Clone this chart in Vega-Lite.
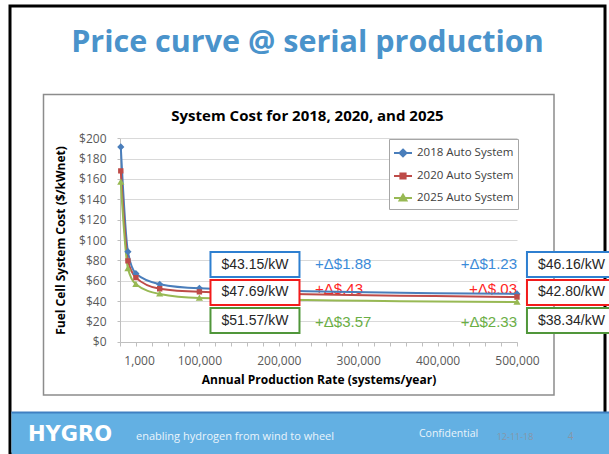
{
  "$schema": "https://vega.github.io/schema/vega-lite/v6.json",
  "width": 595,
  "height": 448,
  "autosize": {"type": "none"},
  "padding": {"left": 10, "top": 6, "right": 4, "bottom": 0},
  "background": "#ffffff",
  "config": {"view": {"stroke": "#000000", "strokeWidth": 3}, "font": "Open Sans"},
  "title": {
    "text": "Price curve @ serial production",
    "subtitle": "System Cost for 2018, 2020, and 2025",
    "anchor": "middle",
    "frame": "group",
    "font": "Open Sans",
    "fontSize": 30.5,
    "fontWeight": "bold",
    "color": "#4A93CB",
    "subtitleFont": "Open Sans",
    "subtitleFontSize": 15,
    "subtitleFontWeight": "bold",
    "subtitleColor": "#000000",
    "subtitlePadding": 51,
    "offset": -118
  },
  "resolve": {"axis": {"x": "independent"}},
  "datasets": {
    "costs": [
      {"series": "2018 Auto System", "rate": 1000, "cost": 191.5},
      {"series": "2018 Auto System", "rate": 10000, "cost": 88.5},
      {"series": "2018 Auto System", "rate": 20000, "cost": 67},
      {"series": "2018 Auto System", "rate": 50000, "cost": 56.5},
      {"series": "2018 Auto System", "rate": 100000, "cost": 52.5},
      {"series": "2018 Auto System", "rate": 500000, "cost": 47},
      {"series": "2020 Auto System", "rate": 1000, "cost": 168},
      {"series": "2020 Auto System", "rate": 10000, "cost": 79.5},
      {"series": "2020 Auto System", "rate": 20000, "cost": 63},
      {"series": "2020 Auto System", "rate": 50000, "cost": 52},
      {"series": "2020 Auto System", "rate": 100000, "cost": 49},
      {"series": "2020 Auto System", "rate": 500000, "cost": 44},
      {"series": "2025 Auto System", "rate": 1000, "cost": 157},
      {"series": "2025 Auto System", "rate": 10000, "cost": 72},
      {"series": "2025 Auto System", "rate": 20000, "cost": 56.5},
      {"series": "2025 Auto System", "rate": 50000, "cost": 47},
      {"series": "2025 Auto System", "rate": 100000, "cost": 43},
      {"series": "2025 Auto System", "rate": 500000, "cost": 39}
    ],
    "boxes": [
      {"label": "$43.15/kW", "series": "2018 Auto System", "rate": 170000, "cost": 75.9},
      {"label": "$47.69/kW", "series": "2020 Auto System", "rate": 170000, "cost": 48.4},
      {"label": "$51.57/kW", "series": "2025 Auto System", "rate": 170000, "cost": 20.8},
      {"label": "$46.16/kW", "series": "2018 Auto System", "rate": 568600, "cost": 75.9},
      {"label": "$42.80/kW", "series": "2020 Auto System", "rate": 568600, "cost": 48.4},
      {"label": "$38.34/kW", "series": "2025 Auto System", "rate": 568600, "cost": 20.8}
    ],
    "deltas": [
      {"label": "+Δ$1.88", "series": "2018 Auto System", "rate": 245600, "cost": 76},
      {"label": "+Δ$.43", "series": "2020 Auto System", "rate": 245600, "cost": 51.5},
      {"label": "+Δ$3.57", "series": "2025 Auto System", "rate": 245600, "cost": 19.8},
      {"label": "+Δ$1.23", "series": "2018 Auto System", "rate": 500000, "cost": 76},
      {"label": "+Δ$.03", "series": "2020 Auto System", "rate": 500000, "cost": 51.5},
      {"label": "+Δ$2.33", "series": "2025 Auto System", "rate": 500000, "cost": 19.8}
    ]
  },
  "layer": [
    {
      "data": {"values": [{}]},
      "mark": {"type": "rect", "fill": "transparent", "stroke": "#8c8c8c", "strokeWidth": 1.5},
      "encoding": {"x": {"value": 33.5}, "x2": {"value": 544}, "y": {"value": 88.5}, "y2": {"value": 389}}
    },
    {
      "data": {"values": [{}]},
      "mark": {"type": "rect", "fill": "#63B0E3"},
      "encoding": {"x": {"value": 1.5}, "x2": {"value": 599}, "y": {"value": 406}, "y2": {"value": 448}}
    },
    {
      "data": {"values": [{}]},
      "mark": {"type": "rect", "fill": "#3F80C2"},
      "encoding": {"x": {"value": 1.5}, "x2": {"value": 599}, "y": {"value": 405.5}, "y2": {"value": 407.5}}
    },
    {
      "data": {"values": [{}]},
      "mark": {"type": "text", "text": "HYGRO", "align": "left", "baseline": "middle", "font": "DejaVu Sans", "fontSize": 21, "fontWeight": "bold", "fill": "#ffffff"},
      "encoding": {"x": {"value": 18}, "y": {"value": 428.7}}
    },
    {
      "data": {"values": [{}]},
      "mark": {"type": "text", "text": "enabling hydrogen from wind to wheel", "align": "left", "baseline": "middle", "font": "Open Sans", "fontSize": 11, "fill": "#EAF4FB"},
      "encoding": {"x": {"value": 126}, "y": {"value": 431.3}}
    },
    {
      "data": {"values": [{}]},
      "mark": {"type": "text", "text": "Confidential", "align": "left", "baseline": "middle", "font": "Open Sans", "fontSize": 10.5, "fill": "#EAF4FB"},
      "encoding": {"x": {"value": 409}, "y": {"value": 428.3}}
    },
    {
      "data": {"values": [{}]},
      "mark": {"type": "text", "text": "12-11-18", "align": "left", "baseline": "middle", "font": "Open Sans", "fontSize": 9, "fill": "#8796A8"},
      "encoding": {"x": {"value": 486.7}, "y": {"value": 430.7}}
    },
    {
      "data": {"values": [{}]},
      "mark": {"type": "text", "text": "4", "align": "center", "baseline": "middle", "font": "Open Sans", "fontSize": 10, "fill": "#8796A8"},
      "encoding": {"x": {"value": 560.7}, "y": {"value": 430.7}}
    },
    {
      "data": {"name": "costs"},
      "mark": {"type": "point", "filled": false, "size": 324, "strokeWidth": 1.8, "opacity": 0},
      "encoding": {
        "x": {"field": "rate", "type": "quantitative", "axis": null},
        "y": {"field": "cost", "type": "quantitative"},
        "color": {"field": "series", "type": "nominal",
          "scale": {"domain": ["2018 Auto System", "2020 Auto System", "2025 Auto System"], "range": ["#4A7EBB", "#BE4B48", "#98B954"]},
          "legend": {
            "orient": "none", "legendX": 379, "legendY": 133, "title": null,
            "strokeColor": "#a6a6a6", "fillColor": "#ffffff", "padding": 4,
            "labelFont": "Open Sans", "labelFontSize": 11.5, "labelColor": "#404040", "labelOffset": 4,
            "symbolSize": 324, "rowPadding": 5, "symbolStrokeWidth": 1.8, "symbolOpacity": 1
          }},
        "shape": {"field": "series", "type": "nominal",
          "scale": {"domain": ["2018 Auto System", "2020 Auto System", "2025 Auto System"],
            "range": ["M-1,0H1M0,-0.4L0.4,0L0,0.4L-0.4,0Z", "M-1,0H1M-0.3,-0.3H0.3V0.3H-0.3Z", "M-1,0H1M0,-0.38L0.4,0.3H-0.4Z"]},
          "legend": {
            "orient": "none", "legendX": 379, "legendY": 133, "title": null,
            "strokeColor": "#a6a6a6", "fillColor": "#ffffff", "padding": 4,
            "labelFont": "Open Sans", "labelFontSize": 11.5, "labelColor": "#404040", "labelOffset": 4,
            "symbolSize": 324, "rowPadding": 5, "symbolStrokeWidth": 1.8, "symbolOpacity": 1
          }}
      }
    },
    {
      "data": {"name": "deltas"},
      "transform": [{"filter": {"field": "rate", "lt": 400000}}],
      "mark": {"type": "text", "align": "left", "baseline": "middle", "font": "Liberation Sans", "fontSize": 15},
      "encoding": {
        "x": {"field": "rate", "type": "quantitative", "scale": {"domain": [0, 500000], "range": [110, 507], "nice": false, "zero": false},
          "axis": {
            "orient": "bottom", "offset": -112,
            "values": [0, 20000, 40000, 60000, 80000, 100000, 120000, 140000, 160000, 180000, 200000, 220000, 240000, 260000, 280000, 300000, 320000, 340000, 360000, 380000, 400000, 420000, 440000, 460000, 480000, 500000],
            "labels": false, "grid": false, "tickSize": 4, "tickColor": "#bfbfbf", "domainColor": "#bfbfbf", "title": null
          }},
        "y": {"field": "cost", "type": "quantitative", "scale": {"domain": [0, 200], "range": [335.7, 132.3], "nice": false},
          "axis": {
            "orient": "left", "offset": -110,
            "values": [0, 5, 10, 15, 20, 25, 30, 35, 40, 45, 50, 55, 60, 65, 70, 75, 80, 85, 90, 95, 100, 105, 110, 115, 120, 125, 130, 135, 140, 145, 150, 155, 160, 165, 170, 175, 180, 185, 190, 195, 200],
            "labelExpr": "datum.value % 20 == 0 ? '$' + datum.value : ''",
            "labelOverlap": false,
            "gridOpacity": {"condition": {"test": "datum.value % 20 == 0", "value": 1}, "value": 0},
            "grid": true, "gridColor": "#d9d9d9", "gridWidth": 1,
            "tickSize": 3, "tickColor": "#bfbfbf", "domainColor": "#bfbfbf",
            "labelFont": "Open Sans", "labelFontSize": 12, "labelColor": "#595959", "labelPadding": 11,
            "title": "Fuel Cell System Cost ($/kWnet)", "titleFont": "Open Sans", "titleFontSize": 12, "titleFontWeight": "bold", "titleColor": "#000000",
            "titleX": -60, "titleY": 234, "titleBaseline": "middle", "titleAlign": "center", "titleAngle": -90
          }},
        "text": {"field": "label"},
        "fill": {"field": "series", "type": "nominal", "scale": {"domain": ["2025 Auto System", "2020 Auto System", "2018 Auto System"], "range": ["#6AAE45", "#FF2424", "#3B8BD9"]}, "legend": null}
      }
    },
    {
      "data": {"name": "deltas"},
      "transform": [{"filter": {"field": "rate", "gte": 400000}}],
      "mark": {"type": "text", "align": "right", "baseline": "middle", "font": "Liberation Sans", "fontSize": 15},
      "encoding": {
        "x": {"field": "rate", "type": "quantitative", "axis": null},
        "y": {"field": "cost", "type": "quantitative"},
        "text": {"field": "label"},
        "fill": {"field": "series", "type": "nominal", "legend": null}
      }
    },
    {
      "data": {"name": "costs"},
      "mark": {"type": "line", "interpolate": "monotone", "strokeWidth": 2},
      "encoding": {
        "x": {"field": "rate", "type": "quantitative", "axis": null},
        "y": {"field": "cost", "type": "quantitative"},
        "color": {"field": "series", "type": "nominal"}
      }
    },
    {
      "data": {"name": "costs"},
      "mark": {"type": "point", "filled": true, "size": 324, "opacity": 1},
      "encoding": {
        "x": {"field": "rate", "type": "quantitative", "axis": null},
        "y": {"field": "cost", "type": "quantitative"},
        "color": {"field": "series", "type": "nominal"},
        "shape": {"field": "series", "type": "nominal", "legend": null}
      }
    },
    {
      "data": {"name": "boxes"},
      "mark": {"type": "point", "shape": "M-3.56,-1H3.56V1H-3.56Z", "size": 625, "fill": "#ffffff", "fillOpacity": 1, "strokeWidth": 2, "opacity": 1},
      "encoding": {
        "x": {"field": "rate", "type": "quantitative", "axis": null},
        "y": {"field": "cost", "type": "quantitative"},
        "stroke": {"field": "series", "type": "nominal", "scale": {"domain": ["2025 Auto System", "2020 Auto System", "2018 Auto System"], "range": ["#50963A", "#F21B1B", "#2E7FD0"]}, "legend": null}
      }
    },
    {
      "data": {"name": "boxes"},
      "mark": {"type": "text", "align": "center", "baseline": "middle", "font": "Liberation Sans", "fontSize": 14, "fill": "#262626"},
      "encoding": {
        "x": {"field": "rate", "type": "quantitative",
          "axis": {
            "orient": "bottom", "offset": -112,
            "values": [24000, 100000, 200000, 300000, 400000, 500000],
            "labelExpr": "datum.value == 24000 ? '1,000' : format(datum.value, ',')",
            "labelOverlap": false, "labelFlush": false,
            "ticks": false, "domain": false, "grid": false,
            "labelFont": "Open Sans", "labelFontSize": 12, "labelColor": "#595959", "labelPadding": 13,
            "title": "Annual Production Rate (systems/year)", "titleFont": "Open Sans", "titleFontSize": 12, "titleFontWeight": "bold", "titleColor": "#000000", "titlePadding": 8
          }},
        "y": {"field": "cost", "type": "quantitative"},
        "text": {"field": "label"}
      }
    }
  ]
}
